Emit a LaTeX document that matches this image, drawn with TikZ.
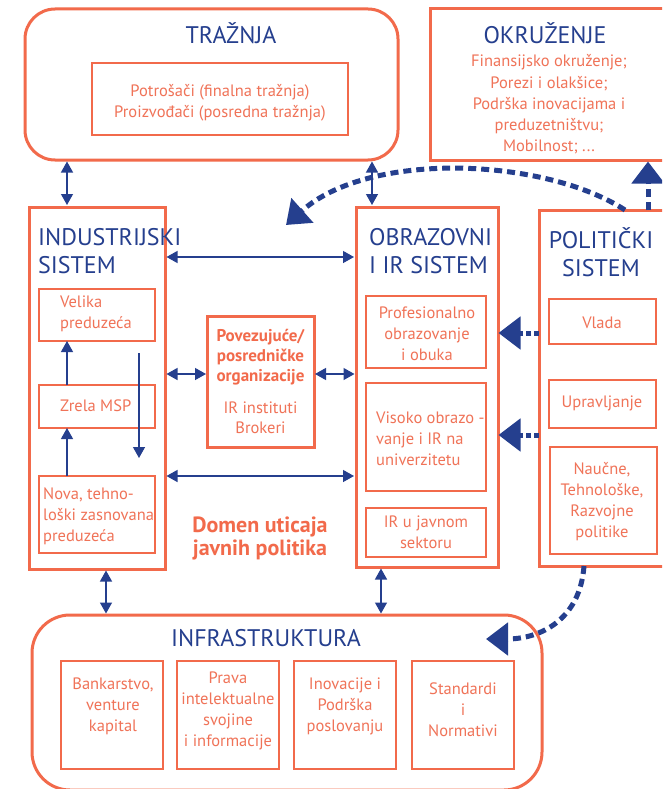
\documentclass[tikz,border=0pt]{standalone}
\usepackage{fontspec}
\setmainfont{PT Sans}
\usetikzlibrary{arrows.meta}
\definecolor{org}{HTML}{F26A4B}
\definecolor{orgt}{HTML}{F07358}
\definecolor{blu}{HTML}{253F8E}
\begin{document}
\begin{tikzpicture}[x=1pt,y=-1pt,
  big/.style={draw=org,line width=3pt,inner sep=0pt,outer sep=0pt},
  small/.style={draw=org,line width=1.4pt,inner sep=0pt,outer sep=0pt},
  ttl/.style={text=blu,font=\fontsize{24}{28}\selectfont,inner sep=0pt},
  otx/.style={text=orgt,font=\fontsize{16.5}{21}\selectfont,inner sep=0pt,align=center},
  btx/.style={text=org,font=\bfseries\fontsize{17}{20}\selectfont,inner sep=0pt,align=center},
  dbl/.style={draw=blu,line width=1.3pt,{Triangle[length=11pt,width=12pt]}-{Triangle[length=11pt,width=12pt]}},
  one/.style={draw=blu,line width=1.3pt,-{Triangle[length=11pt,width=12pt]}},
  dsh/.style={draw=blu,line width=5pt,dash pattern=on 8pt off 5pt,-{Triangle[length=22pt,width=32pt]}},
]
\useasboundingbox (0,0) rectangle (662,789);
\fill[white] (0,0) rectangle (662,789);
\clip (0,0) rectangle (662,789);

% helper coordinates
\coordinate (x67) at (67,0);
\coordinate (x139) at (139,0);
\coordinate (x106) at (106,0);
\coordinate (x372) at (372,0);
\coordinate (x381) at (381,0);
\coordinate (x625) at (625,0);
\coordinate (x648) at (648,0);
\coordinate (x584) at (584,0);
\coordinate (y257) at (0,257);
\coordinate (y374) at (0,374);
\coordinate (y476) at (0,476);
\coordinate (y333) at (0,333);
\coordinate (y435) at (0,435);
\coordinate (tgt1) at (286,225);
\coordinate (tgt2) at (486,639);

% main boxes
\node[big,rounded corners=30pt,minimum width=373pt,minimum height=151pt] (tr) at (211.5,84.5) {};
\node[small,minimum width=256pt,minimum height=72pt] (trin) at (220,99) {};
\node[big,minimum width=240pt,minimum height=151pt] (ok) at (550,84.5) {};
\node[big,minimum width=136pt,minimum height=362pt] (ind) at (97,388) {};
\node[small,minimum width=116pt,minimum height=52pt] (vel) at (97,315) {};
\node[small,minimum width=116pt,minimum height=43pt] (zr) at (97,406.5) {};
\node[small,minimum width=116pt,minimum height=77pt] (nova) at (97,514.5) {};
\node[big,minimum width=107pt,minimum height=131pt] (pov) at (260.5,381.5) {};
\node[big,minimum width=142pt,minimum height=360pt] (obr) at (427,387) {};
\node[small,minimum width=120pt,minimum height=72pt] (prof) at (426,332) {};
\node[small,minimum width=120pt,minimum height=108pt] (vis) at (426,437) {};
\node[small,minimum width=120pt,minimum height=49pt] (irj) at (426,532.5) {};
\node[big,minimum width=131pt,minimum height=356pt] (pol) at (604.5,388) {};
\node[small,minimum width=107pt,minimum height=45pt] (vla) at (602.5,321.5) {};
\node[small,minimum width=107pt,minimum height=48pt] (upr) at (602.5,404) {};
\node[small,minimum width=107pt,minimum height=107pt] (nau) at (603.5,500.5) {};
\node[big,rounded corners=38pt,minimum width=510pt,minimum height=175pt] (inf) at (287,702.5) {};
\node[small,minimum width=102pt,minimum height=108pt] (b1) at (112,715) {};
\node[small,minimum width=102pt,minimum height=108pt] (b2) at (228,715) {};
\node[small,minimum width=102pt,minimum height=108pt] (b3) at (345,715) {};
\node[small,minimum width=102pt,minimum height=108pt] (b4) at (463,715) {};

% titles
\node[ttl] (trt) at (231,33) {TRAŽNJA};
\node[ttl] (okt) at (545,33) {OKRUŽENJE};
\node[ttl,anchor=west,align=left] (indt) at (38,251) {INDUSTRIJSKI\\SISTEM};
\node[ttl,anchor=west,align=left] (obrt) at (369,251) {OBRAZOVNI\\I IR SISTEM};
\node[ttl,align=center] (polt) at (601,252) {POLITIČKI\\SISTEM};
\node[ttl] (inft) at (266,638) {INFRASTRUKTURA};

% orange texts
\node[otx] (trint) at (220,102.5) {Potrošači (finalna tražnja)\\Proizvođači (posredna tražnja)};
\node[otx,font=\fontsize{16.5}{21.3}\selectfont] (okx) at (549,104.5) {Finansijsko okruženje;\\Porezi i olakšice;\\Podrška inovacijama i\\preduzetništvu;\\Mobilnost; ...};
\node[otx,anchor=west,align=left] (velt) at (60,314) {Velika\\preduzeća};
\node[otx,anchor=west] (zrt) at (60,406) {Zrela MSP};
\node[otx,anchor=west,align=left] (novat) at (43,516) {Nova, tehno-\\loški zasnovana\\preduzeća};
\node[btx] (povt) at (260.5,357) {Povezujuće/\\posredničke\\organizacije};
\node[otx,font=\fontsize{16.5}{20}\selectfont] (povx) at (260.5,418) {IR instituti\\Brokeri};
\node[btx,font=\bfseries\fontsize{22}{23}\selectfont] (domt) at (260,538.5) {Domen uticaja\\javnih politika};
\node[otx] (proft) at (427,334) {Profesionalno\\obrazovanje\\i obuka};
\node[otx,anchor=west,align=left] (vist) at (376,439) {Visoko obrazo -\\vanje i IR na\\univerzitetu};
\node[otx] (irjt) at (426,532) {IR u javnom\\sektoru};
\node[otx] (vlat) at (602,323) {Vlada};
\node[otx] (uprt) at (602,403) {Upravljanje};
\node[otx] (naut) at (602,501.5) {Naučne,\\Tehnološke,\\Razvojne\\politike};
\node[otx] (b1t) at (113,706) {Bankarstvo,\\venture\\kapital};
\node[otx] (b2t) at (228,710.5) {Prava\\intelektualne\\svojine\\i informacije};
\node[otx] (b3t) at (345,706) {Inovacije i\\Podrška\\poslovanju};
\node[otx] (b4t) at (463,710) {Standardi\\i\\Normativi};

% thin connectors
\draw[dbl,shorten <=1.5pt,shorten >=2pt] (tr.south -| x67) -- (ind.north -| x67);
\draw[dbl,shorten <=1.5pt,shorten >=2pt] (tr.south -| x372) -- (obr.north -| x372);
\draw[dbl,shorten <=1.5pt,shorten >=2pt] (ind.east |- y257) -- (obr.west |- y257);
\draw[dbl,shorten <=1.5pt,shorten >=1pt] (ind.east |- y374) -- (pov.west |- y374);
\draw[dbl,shorten <=1pt,shorten >=1.5pt] (pov.east |- y374) -- (obr.west |- y374);
\draw[dbl,shorten <=1.5pt,shorten >=2pt] (ind.east |- y476) -- (obr.west |- y476);
\draw[one] (zr.north -| x67) -- (vel.south -| x67);
\draw[one] (nova.north -| x67) -- (zr.south -| x67);
\draw[one,shorten <=12pt,shorten >=18pt] (vel.south -| x139) -- (nova.north -| x139);
\draw[dbl,shorten <=1.5pt,shorten >=1.5pt] (ind.south -| x106) -- (inf.north -| x106);
\draw[dbl,shorten <=1.5pt,shorten >=1.5pt] (obr.south -| x381) -- (inf.north -| x381);

% dashed policy arrows
\draw[dsh] (pol.north -| x625) .. controls (545,158) and (370,150) .. (tgt1);
\draw[dsh,shorten >=1.5pt] (pol.north -| x648) -- (ok.south -| x648);
\draw[dsh,dash pattern=on 5pt off 3pt,shorten >=0.5pt] (pol.west |- y333) -- (obr.east |- y333);
\draw[dsh,dash pattern=on 5pt off 3pt,shorten >=0.5pt] (pol.west |- y435) -- (obr.east |- y435);
\draw[dsh] (pol.south -| x584) .. controls (580,620) and (540,639) .. (tgt2);
\end{tikzpicture}
\end{document}
